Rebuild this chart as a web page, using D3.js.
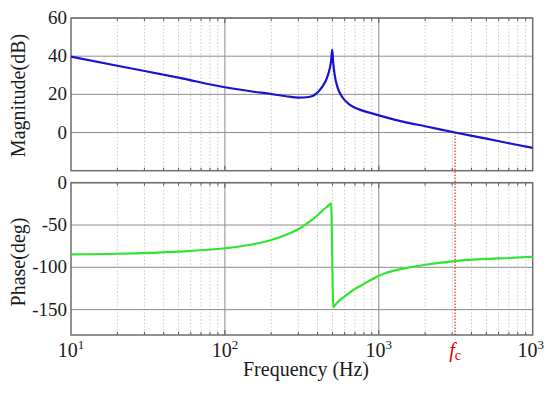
<!DOCTYPE html>
<html>
<head>
<meta charset="utf-8">
<script src="https://d3js.org/d3.v7.min.js"></script>
<style>
  body { margin: 0; background: #fff; }
  text { font-family: "Liberation Serif", "Times New Roman", serif; }
</style>
</head>
<body>
<svg id="chart" width="550" height="394"></svg>
<script>
// values
var freqMag = [10, 20, 50, 100, 150, 200, 250, 300, 350, 400, 430, 460, 480, 490, 498, 505, 515, 540, 580, 650, 750, 870, 1000, 1500, 2000, 3130, 5000, 7000, 10000];
var magDb   = [39.8, 35.0, 28.8, 23.7, 21.5, 20.2, 19.0, 18.3, 18.6, 21.0, 24.0, 28.5, 33.5, 37.5, 43.5, 37.0, 31.0, 23.5, 18.5, 14.5, 12.0, 10.4, 9.0, 5.3, 3.3, 0, -3.2, -5.6, -8.0];

var freqPh   = [10, 20, 50, 100, 150, 200, 250, 300, 350, 400, 430, 460, 490, 506, 520, 550, 600, 650, 740, 900, 1000, 1100, 1500, 2000, 3130, 5000, 7000, 10000];
var phaseDeg = [-84.6, -84.0, -81.5, -77.5, -73.0, -67.7, -61.5, -55.0, -47.0, -38.5, -33.0, -28.5, -24.4, -147.0, -144.5, -140.0, -134.5, -129.5, -123.0, -114.5, -110.0, -107.0, -101.0, -97.0, -92.6, -90.0, -89.0, -87.5];

var magTicks = [60, 40, 20, 0];
var phaseTicks = [0, -50, -100, -150];
var xTicks = [10, 100, 1000, 10000];
var xTickExp = ["1", "2", "3", "3"];
var fc = 3130;

var svg = d3.select("#chart");
var left = 71, right = 532.7;
var topA = 18, botA = 170.7, topB = 182.7, botB = 335;

var x = d3.scaleLog().domain([10, 10000]).range([left, right]);
var yMag = d3.scaleLinear().domain([-20, 60]).range([botA, topA]);
var yPh = d3.scaleLinear().domain([-180, 0]).range([botB, topB]);

var minor = [];
[10, 100, 1000].forEach(function(d){
    for (var k = 2; k <= 9; k++) minor.push(d * k);
});

function panel(y, ticks, y0, y1){
    var g = svg.append("g");
    // minor dotted grid
    g.selectAll(".minor").data(minor).enter().append("line")
        .attr("x1", d => x(d)).attr("x2", d => x(d))
        .attr("y1", y0).attr("y2", y1)
        .attr("stroke", "#c8c8c8").attr("stroke-width", 1)
        .attr("stroke-dasharray", "1.5,2");
    // major vertical grid
    g.selectAll(".vmaj").data([100, 1000]).enter().append("line")
        .attr("x1", d => x(d)).attr("x2", d => x(d))
        .attr("y1", y0).attr("y2", y1)
        .attr("stroke", "#8c8c8c").attr("stroke-width", 1);
    // major horizontal grid
    g.selectAll(".hmaj").data(ticks).enter().append("line")
        .attr("x1", left).attr("x2", right)
        .attr("y1", d => y(d)).attr("y2", d => y(d))
        .attr("stroke", "#8c8c8c").attr("stroke-width", 1);
    // inward ticks
    var tx = minor.concat([100, 1000]);
    g.selectAll(".tb").data(tx).enter().append("line")
        .attr("x1", d => x(d)).attr("x2", d => x(d))
        .attr("y1", y1).attr("y2", d => y1 - (minor.indexOf(d) >= 0 ? 3 : 5))
        .attr("stroke", "#555");
    g.selectAll(".tt").data(tx).enter().append("line")
        .attr("x1", d => x(d)).attr("x2", d => x(d))
        .attr("y1", y0).attr("y2", d => y0 + (minor.indexOf(d) >= 0 ? 3 : 5))
        .attr("stroke", "#555");
    // frame
    g.append("rect")
        .attr("x", left).attr("y", y0)
        .attr("width", right - left).attr("height", y1 - y0)
        .attr("fill", "none").attr("stroke", "#6e6e6e").attr("stroke-width", 1.5);
    // y tick labels
    g.selectAll(".yl").data(ticks).enter().append("text")
        .attr("x", left - 4).attr("y", d => y(d) + 6)
        .attr("text-anchor", "end")
        .style("font-size", "19px")
        .attr("fill", "#1a1a1a")
        .text(d => d);
}

panel(yMag, magTicks, topA, botA);
panel(yPh, phaseTicks, topB, botB);

// fc marker
svg.append("line")
    .attr("x1", x(fc)).attr("x2", x(fc))
    .attr("y1", yMag(0)).attr("y2", botB)
    .attr("stroke", "#e00000").attr("stroke-width", 1)
    .attr("stroke-dasharray", "1.5,1.5");

var magLine = d3.line()
    .x(function(d, i){ return x(freqMag[i]); })
    .y(function(d){ return yMag(d); })
    .curve(d3.curveMonotoneX);

var phLine = d3.line()
    .x(function(d, i){ return x(freqPh[i]); })
    .y(function(d){ return yPh(d); })
    .curve(d3.curveMonotoneX);

svg.append("path").datum(magDb)
    .attr("d", magLine)
    .attr("fill", "none").attr("stroke", "#1414d2").attr("stroke-width", 2.2);

svg.append("path").datum(phaseDeg)
    .attr("d", phLine)
    .attr("fill", "none").attr("stroke", "#2ee62e").attr("stroke-width", 2.2);

// x tick labels
xTicks.forEach(function(d, i){
    var t = svg.append("text")
        .attr("x", x(d) - (i == 3 ? 2 : 0)).attr("y", 357)
        .attr("text-anchor", "middle")
        .attr("fill", "#1a1a1a")
        .style("font-size", "20px");
    t.append("tspan").text("10");
    t.append("tspan").attr("dy", -8).style("font-size", "13px").text(xTickExp[i]);
});

var fcLabel = svg.append("text")
    .attr("x", x(fc)).attr("y", 357)
    .attr("text-anchor", "middle")
    .attr("fill", "#e00000")
    .style("font-size", "20px");
fcLabel.append("tspan").style("font-style", "italic").text("f");
fcLabel.append("tspan").attr("dy", 3).style("font-size", "14px").text("c");

// axis titles
svg.append("text")
    .attr("x", 306).attr("y", 376)
    .attr("text-anchor", "middle")
    .style("font-size", "20px")
    .attr("fill", "#1a1a1a")
    .text("Frequency (Hz)");

svg.append("text")
    .attr("transform", "translate(25,95.5) rotate(-90)")
    .attr("text-anchor", "middle")
    .style("font-size", "20px")
    .attr("fill", "#1a1a1a")
    .text("Magnitude(dB)");

svg.append("text")
    .attr("transform", "translate(25,262) rotate(-90)")
    .attr("text-anchor", "middle")
    .style("font-size", "20px")
    .attr("fill", "#1a1a1a")
    .text("Phase(deg)");
</script>
</body>
</html>
